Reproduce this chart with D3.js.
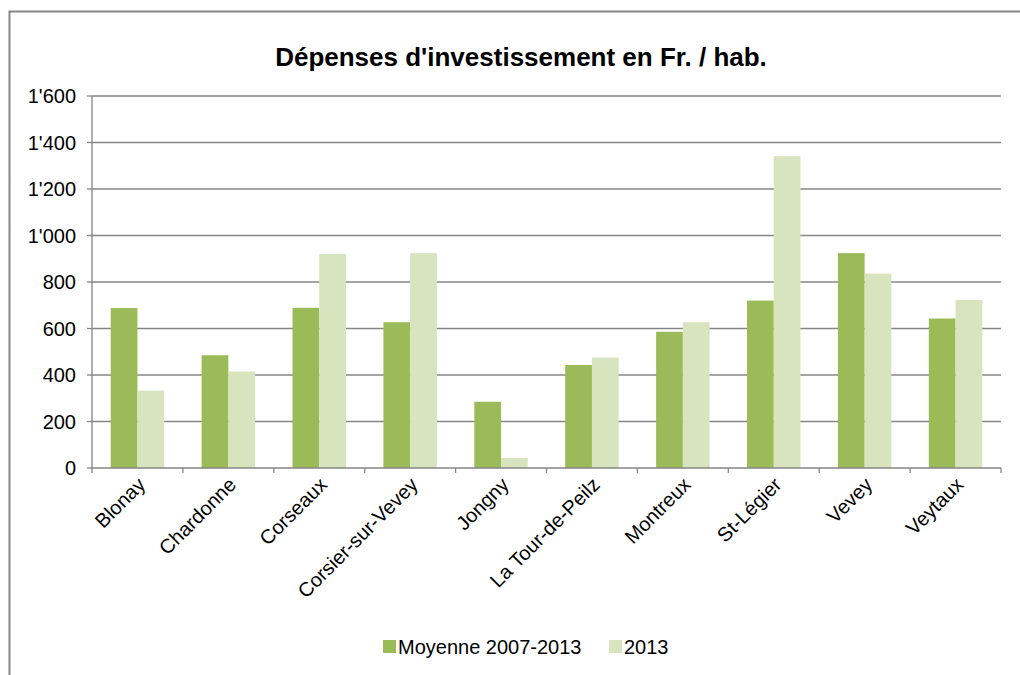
<!DOCTYPE html>
<html>
<head>
<meta charset="utf-8">
<script src="https://cdn.jsdelivr.net/npm/d3@7"></script>
<style>
  body { margin: 0; background: #fff; }
  svg { font-family: "Liberation Sans", Arial, sans-serif; }
</style>
</head>
<body>
<svg id="chart" width="1020" height="675"></svg>
<script>
var communes = ["Blonay", "Chardonne", "Corseaux", "Corsier-sur-Vevey", "Jongny", "La Tour-de-Peilz", "Montreux", "St-Légier", "Vevey", "Veytaux"];
var moyenne = [688, 485, 689, 627, 285, 443, 586, 720, 924, 643];
var annee2013 = [333, 415, 921, 924, 43, 475, 627, 1341, 836, 723];
var seriesNames = ["Moyenne 2007-2013", "2013"];
var yTicks = [0, 200, 400, 600, 800, 1000, 1200, 1400, 1600];

var colors = ["#9bbb59", "#d7e4bd"];
var svg = d3.select("#chart");

// outer frame (only left and top visible in the picture)
svg.append("rect")
    .attr("x", 9.5).attr("y", 11.5)
    .attr("width", 1030).attr("height", 700)
    .attr("fill", "none")
    .attr("stroke", "#878787")
    .attr("stroke-width", 2);

svg.append("text")
    .attr("x", 521).attr("y", 66)
    .attr("text-anchor", "middle")
    .attr("font-size", 26)
    .attr("font-weight", "bold")
    .text("Dépenses d'investissement en Fr. / hab.");

var plotL = 92, plotR = 1001, plotT = 96, plotB = 468;

var x = d3.scaleBand().domain(communes).range([plotL, plotR]);
var inner = d3.scaleBand().domain(seriesNames).range([0, x.bandwidth()]).paddingOuter(0.7).paddingInner(0);
var y = d3.scaleLinear().domain([0, 1600]).range([plotB, plotT]);

// gridlines
svg.append("g").selectAll("line")
    .data(yTicks.filter(d => d > 0))
    .enter().append("line")
    .attr("x1", plotL).attr("x2", plotR)
    .attr("y1", d => y(d)).attr("y2", d => y(d))
    .attr("stroke", "#868686")
    .attr("stroke-width", 1.3);

// y labels
svg.append("g").selectAll("text")
    .data(yTicks)
    .enter().append("text")
    .attr("x", 76)
    .attr("y", d => y(d) + 7)
    .attr("text-anchor", "end")
    .attr("font-size", 20)
    .text(d => d3.format(",")(d).replace(",", "'"));

// y axis line + small ticks
svg.append("line")
    .attr("x1", plotL).attr("x2", plotL)
    .attr("y1", plotT).attr("y2", plotB)
    .attr("stroke", "#868686").attr("stroke-width", 1.3);
svg.append("g").selectAll("line")
    .data(yTicks)
    .enter().append("line")
    .attr("x1", plotL - 5).attr("x2", plotL)
    .attr("y1", d => y(d)).attr("y2", d => y(d))
    .attr("stroke", "#868686").attr("stroke-width", 1.3);

// bars
var series = [moyenne, annee2013];
series.forEach(function (vals, s) {
    svg.append("g").selectAll("rect")
        .data(vals)
        .enter().append("rect")
        .attr("x", (d, i) => x(communes[i]) + inner(seriesNames[s]))
        .attr("width", inner.bandwidth())
        .attr("y", d => y(d))
        .attr("height", d => y(0) - y(d))
        .attr("fill", colors[s]);
});

// x axis
svg.append("line")
    .attr("x1", plotL).attr("x2", plotR)
    .attr("y1", plotB).attr("y2", plotB)
    .attr("stroke", "#868686").attr("stroke-width", 1.3);
svg.append("g").selectAll("line")
    .data(communes.concat(["end"]))
    .enter().append("line")
    .attr("x1", (d, i) => plotL + i * x.step())
    .attr("x2", (d, i) => plotL + i * x.step())
    .attr("y1", plotB).attr("y2", plotB + 5)
    .attr("stroke", "#868686").attr("stroke-width", 1.3);

svg.append("g").selectAll("text")
    .data(communes)
    .enter().append("text")
    .attr("transform", d => "translate(" + (x(d) + x.bandwidth() / 2 + 9) + "," + (plotB + 18) + ") rotate(-45)")
    .attr("text-anchor", "end")
    .attr("font-size", 20)
    .text(d => d);

// legend
var legend = svg.append("g");
var legendX = [383, 609];
seriesNames.forEach(function (name, i) {
    legend.append("rect")
        .attr("x", legendX[i]).attr("y", 640)
        .attr("width", 13).attr("height", 13)
        .attr("fill", colors[i]);
    legend.append("text")
        .attr("x", legendX[i] + 15).attr("y", 654)
        .attr("font-size", 20)
        .text(name);
});
</script>
</body>
</html>
